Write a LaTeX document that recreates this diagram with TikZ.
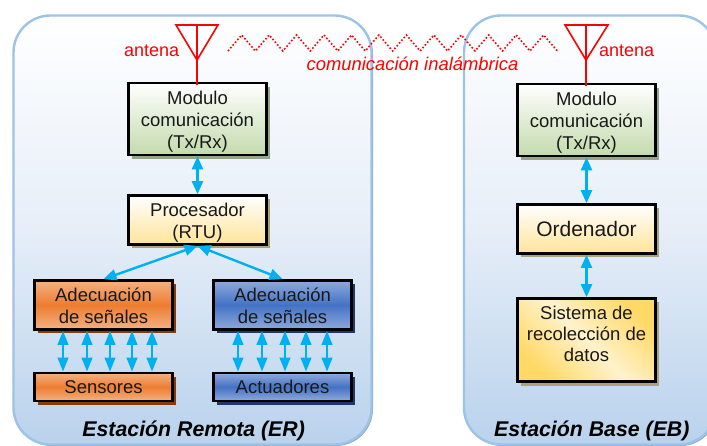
\documentclass[tikz,border=0pt]{standalone}
\usepackage{fontspec}
\setmainfont{Liberation Sans}
\usetikzlibrary{arrows.meta,shadows}
\definecolor{cyanarrow}{HTML}{00B0F0}
\definecolor{panelline}{HTML}{9DC3E6}
\definecolor{panelbottom}{HTML}{B9D2EC}
\definecolor{panelmid}{HTML}{E6EEF8}
\definecolor{panelshadow}{HTML}{8FA6C0}
\definecolor{gbottom}{HTML}{C3DBAC}
\definecolor{gshadow}{HTML}{95A58A}
\definecolor{ybottom}{HTML}{FFE398}
\definecolor{yshadow}{HTML}{ACA27A}
\definecolor{ygold}{HTML}{FFD966}
\definecolor{ylight}{HTML}{FFF2CC}
\definecolor{otop}{HTML}{F4B183}
\definecolor{omid}{HTML}{ED7D31}
\definecolor{oshadow}{HTML}{843C0C}
\definecolor{btop}{HTML}{8FAADC}
\definecolor{bmid}{HTML}{4472C4}
\definecolor{bshadow}{HTML}{1F3864}
\tikzset{
  panelbox/.style={draw=panelline,line width=2.4pt,rounded corners=37pt,top color=white,bottom color=panelbottom,middle color=panelmid,inner sep=0pt,
    general shadow={fill=panelshadow,shadow xshift=1.5pt,shadow yshift=-1.5pt}},
  blockbox/.style={draw=black,line width=2.7pt,minimum width=138pt,inner sep=0pt,align=center,text=black!90,font=\fontsize{18.5}{22}\selectfont},
  greenbox/.style={blockbox,top color=white,bottom color=gbottom,general shadow={fill=gshadow,shadow xshift=3.5pt,shadow yshift=-4pt}},
  yellowbox/.style={blockbox,top color=white,bottom color=ybottom,general shadow={fill=yshadow,shadow xshift=3.5pt,shadow yshift=-4pt}},
  orangebox/.style={blockbox,top color=otop,bottom color=otop,middle color=omid,general shadow={fill=oshadow,shadow xshift=3.5pt,shadow yshift=-4pt}},
  bluebox/.style={blockbox,top color=btop,bottom color=btop,middle color=bmid,general shadow={fill=bshadow,shadow xshift=3.5pt,shadow yshift=-4pt}},
  goldbox/.style={blockbox,top color=ygold,bottom color=ygold,middle color=ylight,shading angle=-45,general shadow={fill=yshadow,shadow xshift=3.5pt,shadow yshift=-4pt}},
  linkarrow/.style={draw=cyanarrow,line width=2.4pt,{Triangle[length=13pt,width=11pt]}-{Triangle[length=13pt,width=11pt]}},
  wirearrow/.style={draw=cyanarrow,line width=2.4pt,{Triangle[length=14pt,width=10.5pt]}-{Triangle[length=14pt,width=10.5pt]}},
  antennaline/.style={draw=red,line width=1.6pt,line join=miter},
  redtext/.style={text=red,inner sep=0pt,font=\fontsize{18}{22}\selectfont},
  stationtext/.style={text=black,inner sep=0pt,font=\fontsize{21.3}{24}\selectfont\bfseries\itshape}
}
\begin{document}
\begin{tikzpicture}[x=1pt,y=-1pt]
\clip (0,0) rectangle (707,446);
\fill[white] (0,0) rectangle (707,446);
% panels
\node[panelbox,minimum width=358pt,minimum height=429pt] (er) at (192.5,230) {};
\node[panelbox,minimum width=252pt,minimum height=429pt] (eb) at (590,230) {};
% coordinates
\coordinate (antL) at (197,25);
\coordinate (antLa) at (176,25);
\coordinate (antLb) at (218,25);
\coordinate (antLc) at (197,60);
\coordinate (antR) at (586,25);
\coordinate (antRa) at (565,25);
\coordinate (antRb) at (608,25);
\coordinate (antRc) at (586,60);
% blocks
\node[greenbox,minimum height=72pt] (modl) at (197.5,119) {\rule{0pt}{19.5pt}Modulo\\comunicación\\(Tx/Rx)};
\node[yellowbox,minimum height=49pt] (proc) at (197.5,220) {\rule{0pt}{18pt}Procesador\\(RTU)};
\node[orangebox,minimum height=49pt] (adl) at (103.5,305) {\rule{0pt}{16pt}Adecuación\\de señales};
\node[bluebox,minimum height=49pt] (adr) at (282.5,305) {\rule{0pt}{16pt}Adecuación\\de señales};
\node[orangebox,minimum height=28pt] (sens) at (103.5,387) {Sensores};
\node[bluebox,minimum height=28pt] (act) at (282.5,387) {Actuadores};
\node[greenbox,minimum height=72pt] (modr) at (586.5,120) {\rule{0pt}{19.5pt}Modulo\\comunicación\\(Tx/Rx)};
\node[yellowbox,minimum height=49pt,font=\fontsize{21}{25}\selectfont] (ord) at (586.5,229) {Ordenador};
\node[goldbox,minimum height=83pt,font=\fontsize{18.5}{21}\selectfont] (sis) at (586.5,340) {Sistema de\\recolección de\\datos\rule[-13pt]{0pt}{13pt}};
% arrows
\draw[linkarrow] (modl.south) -- (proc.north);
\draw[linkarrow] (proc.south) -- (adl.north);
\draw[linkarrow] (proc.south) -- (adr.north);
\draw[linkarrow] (modr.south) -- (ord.north);
\draw[linkarrow] (ord.south) -- (sis.north);
\foreach \x in {63,87,110,132,152}{
  \coordinate (w) at (\x,0);
  \draw[wirearrow] (w |- adl.south) -- (w |- sens.north);
}
\foreach \x in {238,262,285,306,327}{
  \coordinate (w) at (\x,0);
  \draw[wirearrow] (w |- adr.south) -- (w |- act.north);
}
% antennas
\draw[antennaline] (antLa) -- (antLb) -- (antLc) -- cycle;
\draw[antennaline] (antL) -- ([yshift=-3pt]modl.north -| antL);
\draw[antennaline] (antRa) -- (antRb) -- (antRc) -- cycle;
\draw[antennaline] (antR) -- ([yshift=-3pt]modr.north -| antR);
% wireless
\draw[red,line width=1.6pt,dash pattern=on 1.6pt off 2pt] (228,51)
  foreach \i in {0,...,11} { -- ({241.7+27.45*\i},35) -- ({255.4+27.45*\i},51) };
% labels
\node[redtext] (lblL) at (151.7,51) {antena};
\node[redtext] (lblR) at (626.7,51) {antena};
\node[redtext,font=\fontsize{18.4}{22}\selectfont\itshape] (lblW) at (412.5,64) {comunicación inalámbrica};
\node[stationtext] (lblER) at (193.7,430.5) {Estación Remota (ER)};
\node[stationtext] (lblEB) at (591.8,430.5) {Estación Base (EB)};
\end{tikzpicture}
\end{document}
